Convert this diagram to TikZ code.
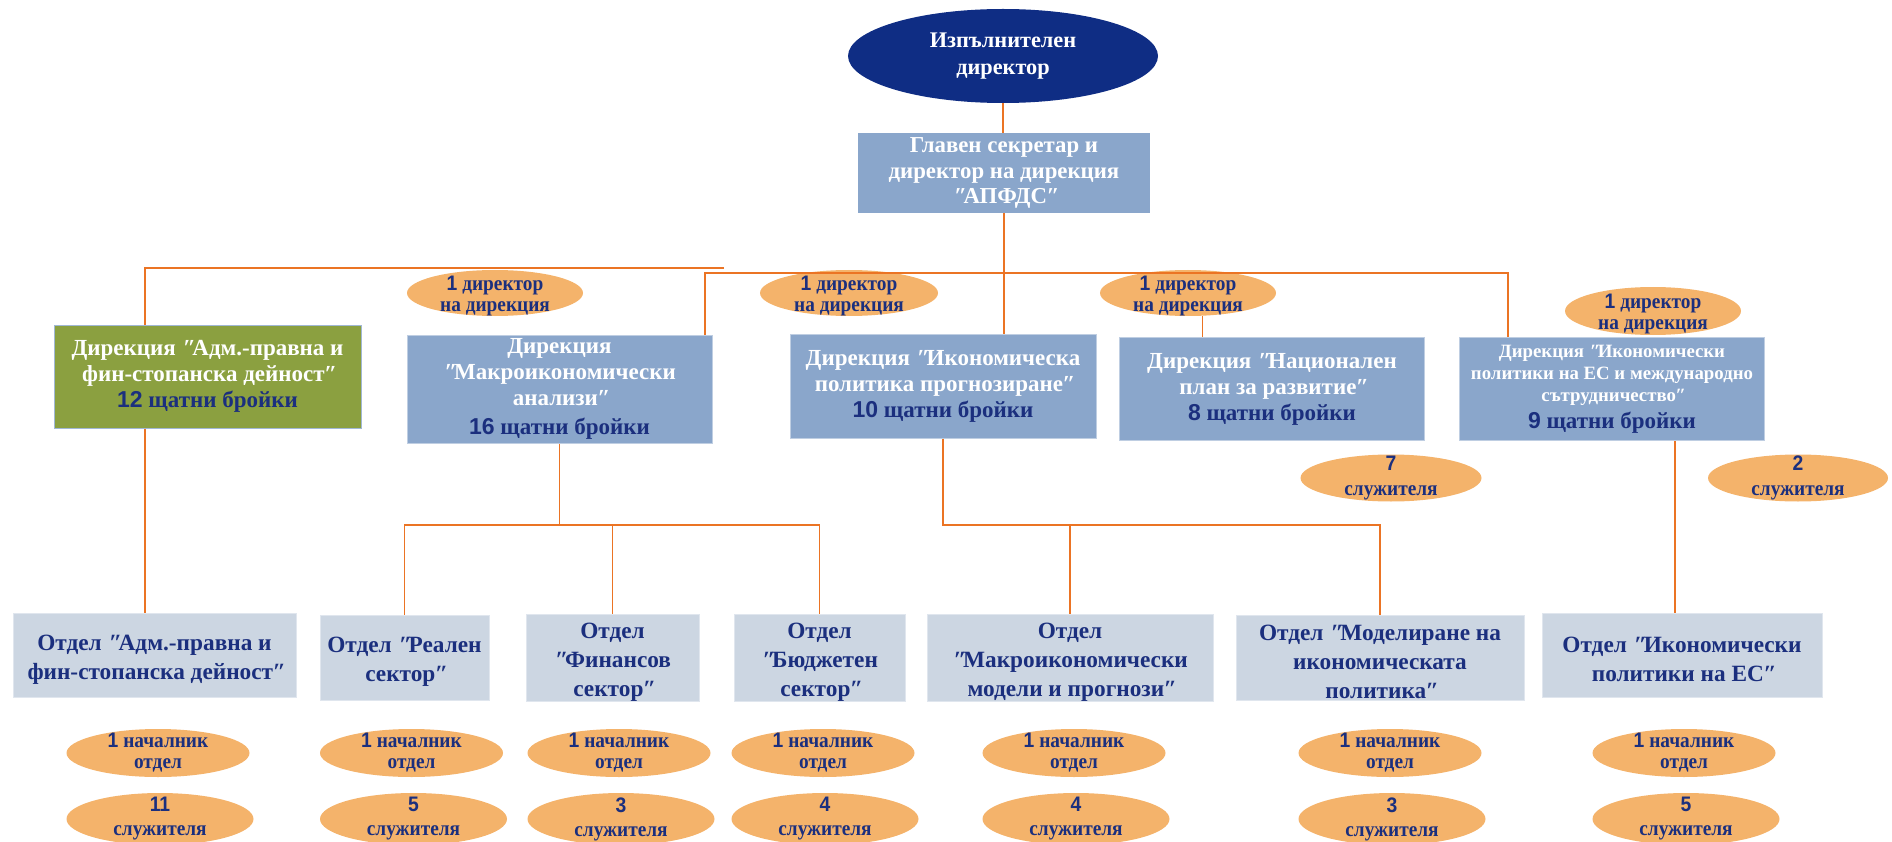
\documentclass[tikz,border=0pt]{standalone}
\usepackage{fontspec}
\setmainfont{Liberation Serif}
\newfontfamily\numf{Liberation Sans}
\newfontfamily\condf[FakeStretch=0.92]{Liberation Serif}
\newfontfamily\condnumf[FakeStretch=0.92]{Liberation Sans}
\newfontfamily\slantf[FakeSlant=0.3]{Liberation Serif}
\usetikzlibrary{shapes.geometric}
\definecolor{navyfill}{HTML}{0F2D84}
\definecolor{steel}{HTML}{8AA6CB}
\definecolor{olivefill}{HTML}{8BA040}
\definecolor{deptfill}{HTML}{CCD6E2}
\definecolor{orangefill}{HTML}{F4B36B}
\definecolor{linecol}{HTML}{EB7424}
\definecolor{textnavy}{HTML}{1B2F7E}
\newcommand\numtxt[1]{{\numf\bfseries #1}}
\newcommand\tagnum[1]{{\condnumf\bfseries #1}}
\newcommand\qo{\kern-0.12em{\slantf\bfseries "}\kern0.04em}
\newcommand\qc{\kern-0.2em{\slantf\bfseries "}}
\newcommand\cntline[2]{\textcolor{textnavy}{\numtxt{#1} #2}}
\newcommand\deptstrut{\rule{0pt}{24pt}}
\newcommand\tagstrut{\rule{0pt}{21pt}}
\tikzset{
  conn/.style={draw=linecol, line width=1.6pt},
  execnode/.style={ellipse, fill=navyfill, text=white, minimum width=310pt, minimum height=94pt, inner sep=0pt, align=center, font=\fontsize{22.3}{27}\selectfont\bfseries},
  secbox/.style={rectangle, fill=steel, text=white, align=center, inner sep=0pt, font=\fontsize{22.8}{25.5}\selectfont\bfseries},
  dirbox/.style={rectangle, fill=steel, draw=steel!55!white, line width=1pt, text=white, align=center, inner sep=0pt, font=\fontsize{23}{26}\selectfont\bfseries},
  greenbox/.style={dirbox, fill=olivefill, draw=steel!80!white},
  deptbox/.style={rectangle, fill=deptfill, draw=deptfill!60!white, line width=0.8pt, text=textnavy, align=center, inner sep=0pt, font=\fontsize{23.3}{29}\selectfont\bfseries},
  tag/.style={ellipse, fill=orangefill, text=textnavy, align=center, inner xsep=0pt, inner ysep=-12pt, font=\condf\fontsize{21}{21}\selectfont\bfseries},
}
\begin{document}
\begin{tikzpicture}[x=1pt,y=-1pt]
\useasboundingbox (0,0) rectangle (1892,842);
\clip (0,0) rectangle (1892,842);
% top
\node[execnode] (exec) at (1003,56) {Изпълнителен\\директор};
\node[secbox, minimum width=292pt, minimum height=80pt] (sec) at (1004,173) {Главен секретар и\\директор на дирекция\\\qo АПФДС\qc};
% directorates
\node[greenbox, minimum width=307pt, minimum height=103pt] (d1) at (207.5,376.5) {Дирекция \qo Адм.-правна и\\фин-стопанска дейност\qc\\\cntline{12}{щатни бройки}};
\node[dirbox, minimum width=305pt, minimum height=108pt] (d2) at (559.5,389) {Дирекция\\\qo Макроикономически\\анализи\qc\\[3pt]\cntline{16}{щатни бройки}};
\node[dirbox, minimum width=306pt, minimum height=104pt] (d3) at (943,386) {Дирекция \qo Икономическа\\политика прогнозиране\qc\\\cntline{10}{щатни бройки}};
\node[dirbox, minimum width=305pt, minimum height=103pt] (d4) at (1272,389) {Дирекция \qo Национален\\план за развитие\qc\\\cntline{8}{щатни бройки}};
\node[dirbox, minimum width=305pt, minimum height=103pt, font=\fontsize{18.8}{22}\selectfont\bfseries] (d5) at (1612,389) {Дирекция \qo Икономически\\политики на ЕС и международно\\сътрудничество\qc\\[5pt]{\fontsize{23}{26}\selectfont\cntline{9}{щатни бройки}}};
% directorate tags
\node[tag, minimum width=176pt, minimum height=46pt] (t2) at (495,293) {\tagstrut\tagnum{1} директор\\на дирекция};
\node[tag, minimum width=178pt, minimum height=46pt] (t3) at (849,293) {\tagstrut\tagnum{1} директор\\на дирекция};
\node[tag, minimum width=176pt, minimum height=46pt] (t4) at (1188,293) {\tagstrut\tagnum{1} директор\\на дирекция};
\node[tag, minimum width=176pt, minimum height=48pt] (t5) at (1653,311) {\tagstrut\tagnum{1} директор\\на дирекция};
\node[tag, minimum width=181pt, minimum height=47pt] (s4) at (1391,478) {\tagnum{7}\\[4pt]служителя};
\node[tag, minimum width=180pt, minimum height=47pt] (s5) at (1798,478) {\tagnum{2}\\[4pt]служителя};
% departments
\node[deptbox, minimum width=283pt, minimum height=84pt] (p1) at (154.5,655) {\deptstrut Отдел \qo Адм.-правна и\\фин-стопанска дейност\qc};
\node[deptbox, minimum width=169pt, minimum height=85pt] (p2) at (404.5,657.5) {\deptstrut Отдел \qo Реален\\сектор\qc};
\node[deptbox, minimum width=173pt, minimum height=85pt] (p3) at (612.5,657.5) {\deptstrut Отдел\\\qo Финансов\\сектор\qc};
\node[deptbox, minimum width=171pt, minimum height=85pt] (p4) at (819.5,657.5) {\deptstrut Отдел\\\qo Бюджетен\\сектор\qc};
\node[deptbox, minimum width=286pt, minimum height=85pt] (p5) at (1070,657.5) {\deptstrut Отдел\\\qo Макроикономически\\модели и прогнози\qc};
\node[deptbox, minimum width=288pt, minimum height=85pt] (p6) at (1380,657.5) {\deptstrut Отдел \qo Моделиране на\\икономическата\\политика\qc};
\node[deptbox, minimum width=280pt, minimum height=84pt] (p7) at (1682,655) {\deptstrut Отдел \qo Икономически\\политики на ЕС\qc};
% department tags
\foreach \i/\x/\n in {1/158/11, 2/411.5/5, 3/619/3, 4/823/4, 5/1074/4, 6/1390/3, 7/1684/5}{
  \node[tag, minimum width=183pt, minimum height=48pt] (h\i) at (\x,753) {\tagnum{1} началник\\отдел};
  \node[tag, minimum width=187pt, minimum height=52pt] (e\i) at (\x+2,819) {\tagnum{\n}\\[3pt]служителя};
}
% connectors
\coordinate (busL) at (145,268);
\coordinate (busLend) at (724,268);
\coordinate (busA) at (705,273);
\coordinate (busB) at (1508,273);
\coordinate (midbus) at (0,525);
\coordinate (eux) at (1675,0);
\draw[conn] (exec.south) -- (exec.south |- sec.north);
\draw[conn] (sec.south) -- (sec.south |- d3.north);
\draw[conn] (busLend) -- (busL) -- (busL |- d1.north);
\draw[conn] (busL |- d1.south) -- (busL |- p1.north);
\draw[conn] (busA |- d2.north) -- (busA) -- (busB) -- (busB |- d5.north);
\draw[conn] (t4.-58) -- (t4.-58 |- d4.north);
\draw[conn] (d2.south) -- (d2.south |- midbus);
\draw[conn] (p2.north) -- (p2.north |- midbus) -- (p4.north |- midbus) -- (p4.north);
\draw[conn] (p3.north) -- (p3.north |- midbus);
\draw[conn] (d3.south) -- (d3.south |- midbus) -- (p6.north |- midbus) -- (p6.north);
\draw[conn] (p5.north) -- (p5.north |- midbus);
\draw[conn] (eux |- d5.south) -- (eux |- p7.north);
\end{tikzpicture}
\end{document}
